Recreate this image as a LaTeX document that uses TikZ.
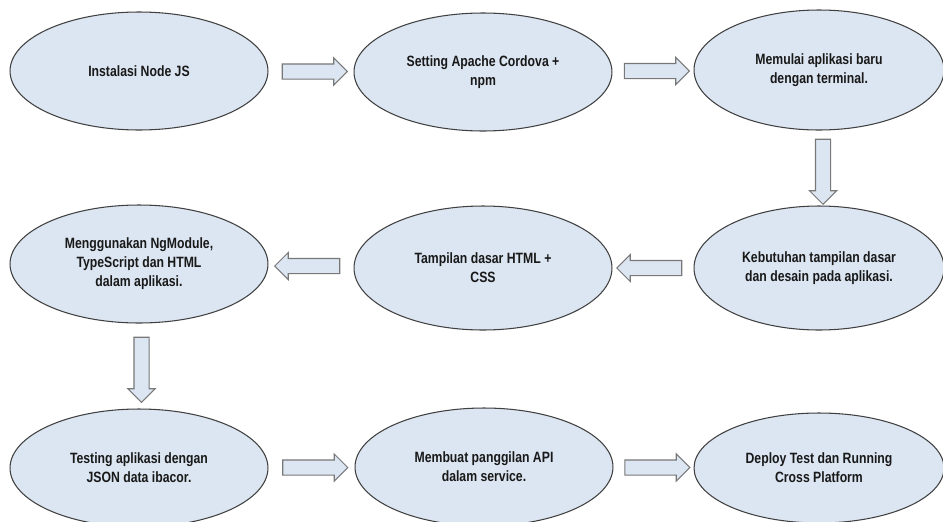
\documentclass[tikz,border=0pt]{standalone}
\usepackage{fontspec}
\setmainfont{Liberation Sans}[FakeStretch=0.82]
\usepackage{tikz}
\usetikzlibrary{shapes.geometric,shapes.arrows,calc}
\definecolor{stepfill}{RGB}{220,230,242}
\definecolor{stepline}{RGB}{64,64,64}
\definecolor{arrowline}{RGB}{120,120,120}
\tikzset{
  stepnode/.style={ellipse, draw=stepline, line width=0.6pt, fill=stepfill, align=center,
    minimum width=5.16cm, minimum height=2.36cm, inner sep=1pt,
    font=\fontsize{8.5}{10.8}\selectfont\bfseries, text=black!90},
  blockarrow/.style={single arrow, draw=arrowline, line width=0.6pt, fill=stepfill,
    inner sep=0pt, minimum width=0pt, text height=0.28cm, text depth=0pt, text width=0.28cm,
    single arrow head extend=0.12cm, minimum height=1.3cm}
}
\begin{document}
\begin{tikzpicture}[x=0.02cm,y=-0.02cm]
  \clip (0,0) rectangle (943,521);
  \fill[white] (0,0) rectangle (943,521);
  % baris pertama
  \node[stepnode] (instal) at (139,71) {Instalasi Node JS};
  \node[stepnode] (cordova) at (483,72) {Setting Apache Cordova +\\npm};
  \node[stepnode, minimum width=5cm, minimum height=2.4cm] (mulai) at (819,70) {Memulai aplikasi baru\\dengan terminal.};
  % baris kedua
  \node[stepnode, minimum width=5cm, minimum height=2.48cm] (kebutuhan) at (819,268) {Kebutuhan tampilan dasar\\dan desain pada aplikasi.};
  \node[stepnode, minimum height=2.48cm] (tampilan) at (483,268) {Tampilan dasar HTML +\\CSS};
  \node[stepnode] (ngmodule) at (139,264) {Menggunakan NgModule,\\TypeScript dan HTML\\dalam aplikasi.};
  % baris ketiga
  \node[stepnode] (testing) at (139,468) {Testing aplikasi dengan\\JSON data ibacor.};
  \node[stepnode] (api) at (484,467) {Membuat panggilan API\\dalam service.};
  \node[stepnode, minimum width=5cm, minimum height=2.2cm] (deploy) at (819,468) {Deploy Test dan Running\\Cross Platform};
  % panah
  \node[blockarrow] (a1) at ($(instal.east)!0.5!(cordova.west)$) {};
  \node[blockarrow] (a2) at ($(cordova.east)!0.5!(mulai.west)$) {};
  \node[blockarrow, shape border rotate=270, xshift=0.08cm] (a3) at ($(mulai.south)!0.5!(kebutuhan.north)$) {};
  \node[blockarrow, shape border rotate=180] (a4) at ($(kebutuhan.west)!0.5!(tampilan.east)$) {};
  \node[blockarrow, shape border rotate=180] (a5) at ($(tampilan.west)!0.5!(ngmodule.east)$) {};
  \node[blockarrow, shape border rotate=270, xshift=0.05cm] (a6) at ($(ngmodule.south)!0.5!(testing.north)$) {};
  \node[blockarrow] (a7) at ($(testing.east)!0.5!(api.west)$) {};
  \node[blockarrow] (a8) at ($(api.east)!0.5!(deploy.west)$) {};
\end{tikzpicture}
\end{document}
